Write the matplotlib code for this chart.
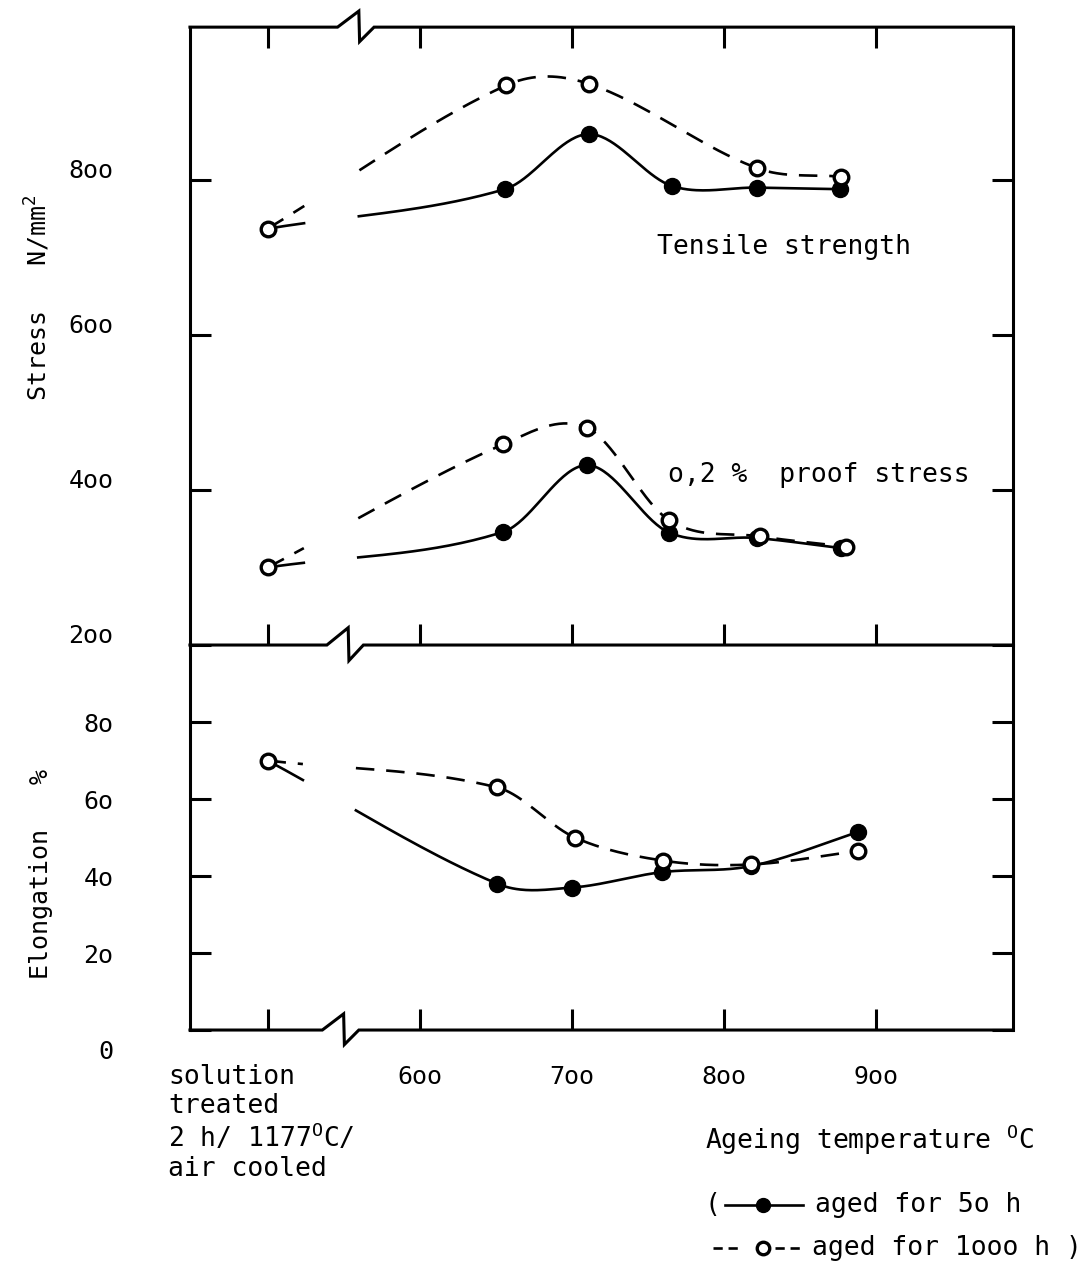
import numpy as np
import matplotlib
matplotlib.use('Agg')
import matplotlib.pyplot as plt
import matplotlib.transforms as mtransforms
from matplotlib.lines import Line2D

plt.rcParams['font.family'] = 'DejaVu Sans Mono'
plt.rcParams['mathtext.fontset'] = 'custom'
plt.rcParams['mathtext.rm'] = 'DejaVu Sans Mono'
plt.rcParams['mathtext.default'] = 'regular'

# x position used for the "solution treated" state (left of the axis break)
SOL = 500
x_ticks = [500, 600, 700, 800, 900]
x_tick_labels = ['', '6oo', '7oo', '8oo', '9oo']

# stress panel, N/mm2
tensile_50_x = [SOL, 656, 711, 766, 822, 876]
tensile_50 = [737, 788, 859, 792, 790, 788]
tensile_1000_x = [SOL, 657, 711, 822, 877]
tensile_1000 = [737, 922, 924, 815, 804]
proof_50_x = [SOL, 655, 710, 764, 822, 877]
proof_50 = [300, 346, 432, 345, 338, 325]
proof_1000_x = [SOL, 655, 710, 764, 824, 880]
proof_1000 = [300, 459, 480, 361, 340, 327]
stress_ticks = [200, 400, 600, 800]
stress_tick_labels = ['2oo', '4oo', '6oo', '8oo']

# elongation panel, %
elong_50_x = [SOL, 651, 700, 759, 818, 888]
elong_50 = [70, 38, 37, 41, 42.6, 51.4]
elong_1000_x = [SOL, 651, 702, 760, 818, 888]
elong_1000 = [70, 63, 50, 44, 43, 46.5]
elong_ticks = [0, 20, 40, 60, 80]
elong_tick_labels = ['0', '2o', '4o', '6o', '8o']

GAP = (525, 557)   # hand-drawn curves are interrupted at the axis break
LW = 1.9


def smooth(xs, ys, n=40):
    # cubic hermite through the points, central-difference slopes
    xs = np.asarray(xs, float)
    ys = np.asarray(ys, float)
    m = np.zeros_like(ys)
    m[0] = (ys[1] - ys[0]) / (xs[1] - xs[0])
    m[-1] = (ys[-1] - ys[-2]) / (xs[-1] - xs[-2])
    m[1:-1] = (ys[2:] - ys[:-2]) / (xs[2:] - xs[:-2])
    cx, cy = [], []
    for i in range(len(xs) - 1):
        h = xs[i + 1] - xs[i]
        t = np.linspace(0, 1, n)
        h00 = 2 * t**3 - 3 * t**2 + 1
        h10 = t**3 - 2 * t**2 + t
        h01 = -2 * t**3 + 3 * t**2
        h11 = t**3 - t**2
        cx.append(xs[i] + t * h)
        cy.append(h00 * ys[i] + h10 * h * m[i] + h01 * ys[i + 1] + h11 * h * m[i + 1])
    cx = np.concatenate(cx)
    cy = np.concatenate(cy)
    cy[(cx > GAP[0]) & (cx < GAP[1])] = np.nan
    return cx, cy


def draw_series(ax, xs, ys, filled):
    cx, cy = smooth(xs, ys)
    if filled:
        ax.plot(cx, cy, color='k', lw=LW, zorder=2)
        ax.plot(xs[1:], ys[1:], 'o', ms=11.5, mfc='k', mec='k', zorder=3)
    else:
        ax.plot(cx, cy, color='k', lw=LW, dashes=(7, 4.5), zorder=2)
        ax.plot(xs, ys, 'o', ms=10.5, mfc='white', mec='k', mew=2.4, zorder=4)


def hspine(ax, y, start, h):
    # horizontal frame line with the zig-zag break mark
    tr = ax.get_xaxis_transform()
    x0, x1 = ax.get_xlim()
    xs = [x0, start, start + 14, start + 14.5, start + 24, x1]
    ys = [y, y, y + h, y - 0.9 * h, y, y]
    ax.plot(xs, ys, transform=tr, color='k', lw=2.2, clip_on=False,
            solid_joinstyle='miter', zorder=5)


fig = plt.figure(figsize=(10.83, 12.74), dpi=100)
ax1 = fig.add_axes([0.1754, 0.4937, 0.760, 0.485])
ax2 = fig.add_axes([0.1754, 0.1915, 0.760, 0.3022])
ax2.patch.set_visible(False)

for ax in (ax1, ax2):
    ax.set_xlim(449, 990)
    ax.spines['top'].set_visible(False)
    ax.spines['bottom'].set_visible(False)
    ax.spines['left'].set_linewidth(2.2)
    ax.spines['right'].set_linewidth(2.2)
    ax.set_xticks(x_ticks)
    ax.tick_params(direction='in', length=15, width=2.2, labelsize=18)
    ax.tick_params(axis='y', left=True, right=True, pad=55)

ax1.set_ylim(200, 997)
ax2.set_ylim(0, 100)

# stress panel
draw_series(ax1, tensile_50_x, tensile_50, True)
draw_series(ax1, proof_50_x, proof_50, True)
draw_series(ax1, tensile_1000_x, tensile_1000, False)
draw_series(ax1, proof_1000_x, proof_1000, False)
ax1.set_yticks(stress_ticks)
ax1.set_yticklabels(stress_tick_labels)
ax1.tick_params(axis='x', top=True, bottom=True, labelbottom=False)
hspine(ax1, 1.0, 546, 0.026)
hspine(ax1, 0.0, 539, 0.028)
ax1.text(756, 714, 'Tensile strength', fontsize=19, ha='left', va='center')
ax1.text(763, 419, 'o,2 %  proof stress', fontsize=19, ha='left', va='center')

up = mtransforms.ScaledTranslation(0, 8 / 72, fig.dpi_scale_trans)
for lab in ax1.get_yticklabels():
    lab.set_transform(lab.get_transform() + up)

# elongation panel
draw_series(ax2, elong_50_x, elong_50, True)
draw_series(ax2, elong_1000_x, elong_1000, False)
ax2.set_yticks(elong_ticks)
ax2.set_yticklabels(elong_tick_labels)
ax2.set_xticklabels(x_tick_labels)
ax2.tick_params(axis='x', top=False, bottom=True, pad=25)
hspine(ax2, 0.0, 536, 0.042)
down = mtransforms.ScaledTranslation(0, -14 / 72, fig.dpi_scale_trans)
zero_lab = ax2.get_yticklabels()[0]
zero_lab.set_transform(zero_lab.get_transform() + down)

# axis titles
fig.text(0.035, 1 - 298 / 1274, 'Stress   N/mm$^2$', rotation=90, fontsize=18,
         ha='center', va='center')
fig.text(0.038, 1 - 874 / 1274, 'Elongation   %', rotation=90, fontsize=18,
         ha='center', va='center')

fig.text(168 / 1083, 1 - 1064 / 1274,
         'solution\ntreated\n2 h/ 1177$^{O}$C/\nair cooled',
         fontsize=19, ha='left', va='top', linespacing=1.15)
fig.text(705 / 1083, 1 - 1140 / 1274, 'Ageing temperature $^{O}$C',
         fontsize=19, ha='left', va='center')


# key
def fx(px):
    return px / 1083


def fy(py):
    return 1 - py / 1274


y1, y2 = fy(1205), fy(1248)
fig.text(fx(705), y1, '(', fontsize=19, ha='left', va='center')
fig.add_artist(Line2D([fx(725), fx(803)], [y1, y1], transform=fig.transFigure,
                      color='k', lw=LW))
fig.add_artist(Line2D([fx(763)], [y1], transform=fig.transFigure, marker='o',
                      ms=10, mfc='k', mec='k', ls='none'))
fig.text(fx(815), y1, 'aged for 5o h', fontsize=19, ha='left', va='center')
fig.add_artist(Line2D([fx(713), fx(740)], [y2, y2], transform=fig.transFigure,
                      color='k', lw=LW, dashes=(3.5, 2.2)))
fig.add_artist(Line2D([fx(775), fx(800)], [y2, y2], transform=fig.transFigure,
                      color='k', lw=LW, dashes=(3.5, 2.2)))
fig.add_artist(Line2D([fx(763)], [y2], transform=fig.transFigure, marker='o',
                      ms=9, mfc='white', mec='k', mew=2.4, ls='none'))
fig.text(fx(812), y2, 'aged for 1ooo h )', fontsize=19, ha='left', va='center')

fig.savefig('out.png', dpi=100)
